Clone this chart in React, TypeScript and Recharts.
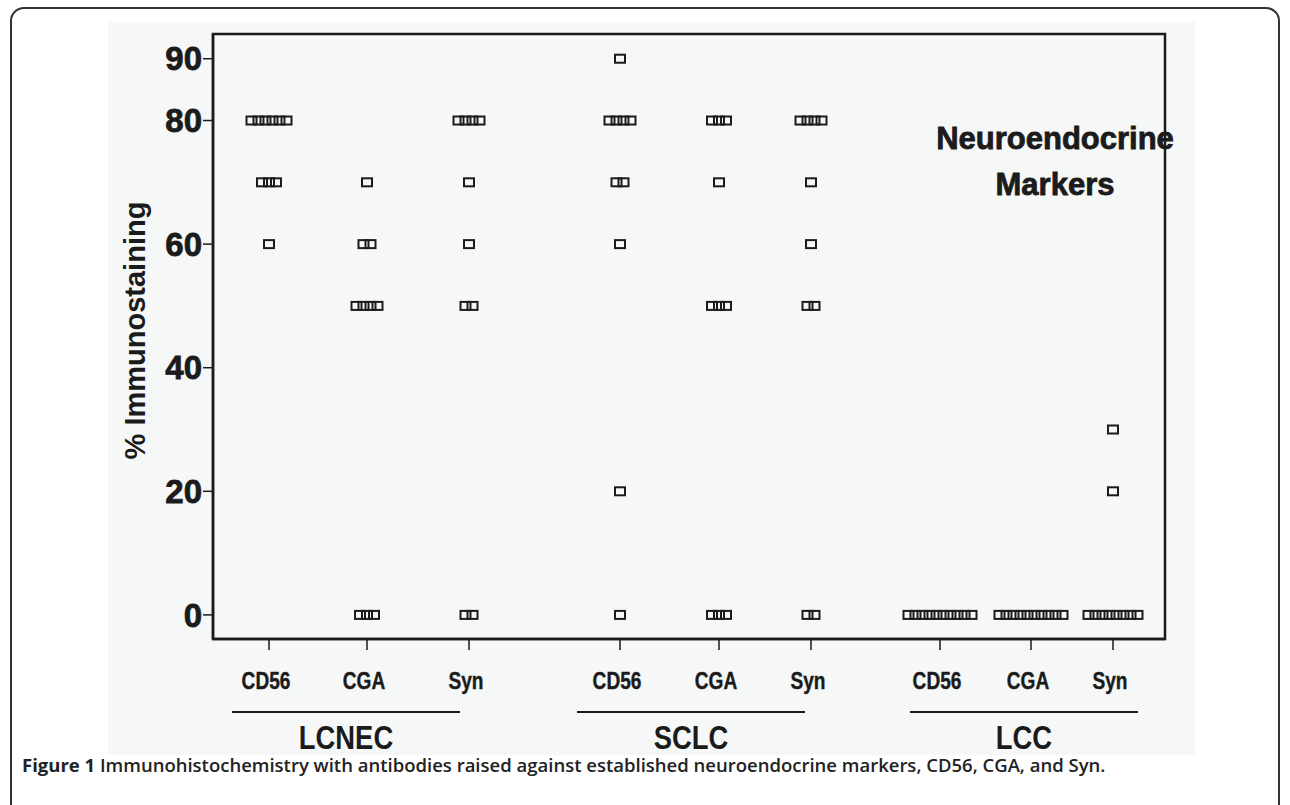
import { ScatterChart, Scatter, XAxis, YAxis, ReferenceArea } from 'recharts';

// categories
const groups = ['LCNEC', 'SCLC', 'LCC'];
const markers = ['CD56', 'CGA', 'Syn'];
// x positions of each marker column on the numeric axis (group gaps are wider)
const markerPos = [0.56, 1.54, 2.56, 4.07, 5.06, 5.98, 7.27, 8.18, 9.0];
const groupPos = [1.33, 4.78, 8.11];
const yTicks = [0, 20, 40, 60, 80, 90];
const xDomain: [number, number] = [0, 9.52];
const yDomain: [number, number] = [-3.9, 94];

// % immunostaining per case (10 cases per group)
const lcnecCD56 = [80, 80, 80, 80, 80, 80, 70, 70, 70, 60];
const lcnecCGA = [70, 60, 60, 50, 50, 50, 50, 0, 0, 0];
const lcnecSyn = [80, 80, 80, 80, 70, 60, 50, 50, 0, 0];
const sclcCD56 = [90, 80, 80, 80, 80, 70, 70, 60, 20, 0];
const sclcCGA = [80, 80, 80, 70, 50, 50, 50, 0, 0, 0];
const sclcSyn = [80, 80, 80, 80, 70, 60, 50, 50, 0, 0];
const lccCD56 = [0, 0, 0, 0, 0, 0, 0, 0, 0, 0];
const lccCGA = [0, 0, 0, 0, 0, 0, 0, 0, 0, 0];
const lccSyn = [30, 20, 0, 0, 0, 0, 0, 0, 0, 0];

const columns = [lcnecCD56, lcnecCGA, lcnecSyn, sclcCD56, sclcCGA, sclcSyn, lccCD56, lccCGA, lccSyn];

const INK = '#1b1b1b';
const STEP = 7; // px between tied cases
const SANS = "'Liberation Sans', Arial, sans-serif";
const SQUEEZE = 0.83; // condensed look of the original lettering

// tied values are spread side by side, like the dot plot
const points = columns.flatMap((vals, col) => {
    const seen: Record<number, number> = {};
    return vals.map((v) => {
        const n = vals.filter((w) => w === v).length;
        const k = seen[v] ?? 0;
        seen[v] = k + 1;
        return { x: markerPos[col], y: v, slot: k - (n - 1) / 2 };
    });
});
const groupPoints = groupPos.map((g) => ({ x: g, y: 0 }));

const findIdx = (arr: number[], v: number) => arr.findIndex((a) => Math.abs(a - v) < 1e-6);

const Square = (props: any) => {
    const { cx, cy, payload } = props;
    const x = cx + payload.slot * STEP;
    return <rect x={x - 5} y={cy - 4} width={10} height={8} fill="none" stroke={INK} strokeWidth={2} />;
};

const Nothing = () => <g />;

const MarkerTick = (props: any) => {
    const { x, y, payload } = props;
    const i = findIdx(markerPos, payload.value);
    return (
        <text
            transform={`translate(${x - 3} ${y + 37}) scale(${SQUEEZE} 1)`}
            textAnchor="middle"
            fontFamily={SANS}
            fontWeight="bold"
            fontSize={23}
            fill={INK}
            stroke={INK}
            strokeWidth={0.4}
        >
            {markers[i % 3]}
        </text>
    );
};

const GroupTick = (props: any) => {
    const { x, y, payload } = props;
    const i = findIdx(groupPos, payload.value);
    return (
        <g>
            <line x1={x - 114} x2={x + 114} y1={y + 13} y2={y + 13} stroke={INK} strokeWidth={2} />
            <text
                transform={`translate(${x} ${y + 50}) scale(${SQUEEZE} 1)`}
                textAnchor="middle"
                fontFamily={SANS}
                fontWeight="bold"
                fontSize={33}
                fill={INK}
            >
                {groups[i]}
            </text>
        </g>
    );
};

const YTitle = (props: any) => {
    const { viewBox } = props;
    const x = viewBox.x + 37;
    const y = viewBox.y + viewBox.height / 2 - 6;
    return (
        <text x={x} y={y} transform={`rotate(-90 ${x} ${y})`} textAnchor="middle" fontFamily={SANS} fontWeight="bold" fontSize={29} fill={INK}>
            % Immunostaining
        </text>
    );
};

const App = () => {
    return (
        <div style={{ position: 'absolute', left: 0, top: 0, width: 1290, height: 805, overflow: 'hidden', background: '#fff', fontFamily: SANS }}>
            <div style={{ position: 'absolute', left: 10, top: 7, width: 1270, height: 840, border: '2px solid #333', borderRadius: 14, boxSizing: 'border-box' }} />
            <div style={{ position: 'absolute', left: 108, top: 22, width: 1087, height: 733, background: '#f6f8f8' }} />
            <div style={{ position: 'absolute', left: 0, top: 0 }}>
                <ScatterChart width={1290} height={805} margin={{ top: 34, right: 125, left: 108, bottom: 41 }}>
                    <XAxis
                        xAxisId="a_marker"
                        type="number"
                        dataKey="x"
                        domain={xDomain}
                        ticks={markerPos}
                        interval={0}
                        height={60}
                        tickSize={11}
                        tick={<MarkerTick />}
                        axisLine={{ stroke: INK, strokeWidth: 2.5 }}
                        tickLine={{ stroke: INK, strokeWidth: 1.5 }}
                    />
                    <XAxis
                        xAxisId="b_group"
                        type="number"
                        dataKey="x"
                        domain={xDomain}
                        ticks={groupPos}
                        interval={0}
                        height={65}
                        tickSize={0}
                        tickMargin={0}
                        axisLine={false}
                        tickLine={false}
                        tick={<GroupTick />}
                    />
                    <YAxis
                        yAxisId="l"
                        type="number"
                        dataKey="y"
                        domain={yDomain}
                        ticks={yTicks}
                        interval={0}
                        width={105}
                        tickSize={10}
                        tickMargin={1}
                        axisLine={{ stroke: INK, strokeWidth: 2.5 }}
                        tickLine={{ stroke: INK, strokeWidth: 1.5 }}
                        tick={{ fill: INK, fontSize: 33, fontWeight: 'bold', fontFamily: SANS, stroke: INK, strokeWidth: 0.8 }}
                        label={{ content: <YTitle /> }}
                    />
                    <ReferenceArea
                        xAxisId="a_marker"
                        yAxisId="l"
                        x1={xDomain[0]}
                        x2={xDomain[1]}
                        y1={yDomain[0]}
                        y2={yDomain[1]}
                        fill="none"
                        fillOpacity={0}
                        stroke={INK}
                        strokeWidth={2.5}
                        ifOverflow="visible"
                    />
                    <Scatter data={groupPoints} xAxisId="b_group" yAxisId="l" shape={<Nothing />} isAnimationActive={false} />
                    <Scatter data={points} xAxisId="a_marker" yAxisId="l" shape={<Square />} isAnimationActive={false} />
                </ScatterChart>
            </div>
            <div style={{ position: 'absolute', left: 1055, top: 116, transform: 'translateX(-50%)', textAlign: 'center', fontFamily: SANS, fontWeight: 'bold', fontSize: 31, lineHeight: '46px', color: INK, WebkitTextStroke: '0.8px #1b1b1b', whiteSpace: 'nowrap' }}>
                Neuroendocrine
                <br />
                Markers
            </div>
            <div style={{ position: 'absolute', left: 22, top: 756, fontFamily: "'Open Sans', sans-serif", fontSize: 18.5, fontWeight: 600, lineHeight: '18px', color: '#222', whiteSpace: 'nowrap' }}>
                <span style={{ fontWeight: 700 }}>Figure 1</span> Immunohistochemistry with antibodies raised against established neuroendocrine markers, CD56, CGA, and Syn.
            </div>
        </div>
    );
};

export default App;
